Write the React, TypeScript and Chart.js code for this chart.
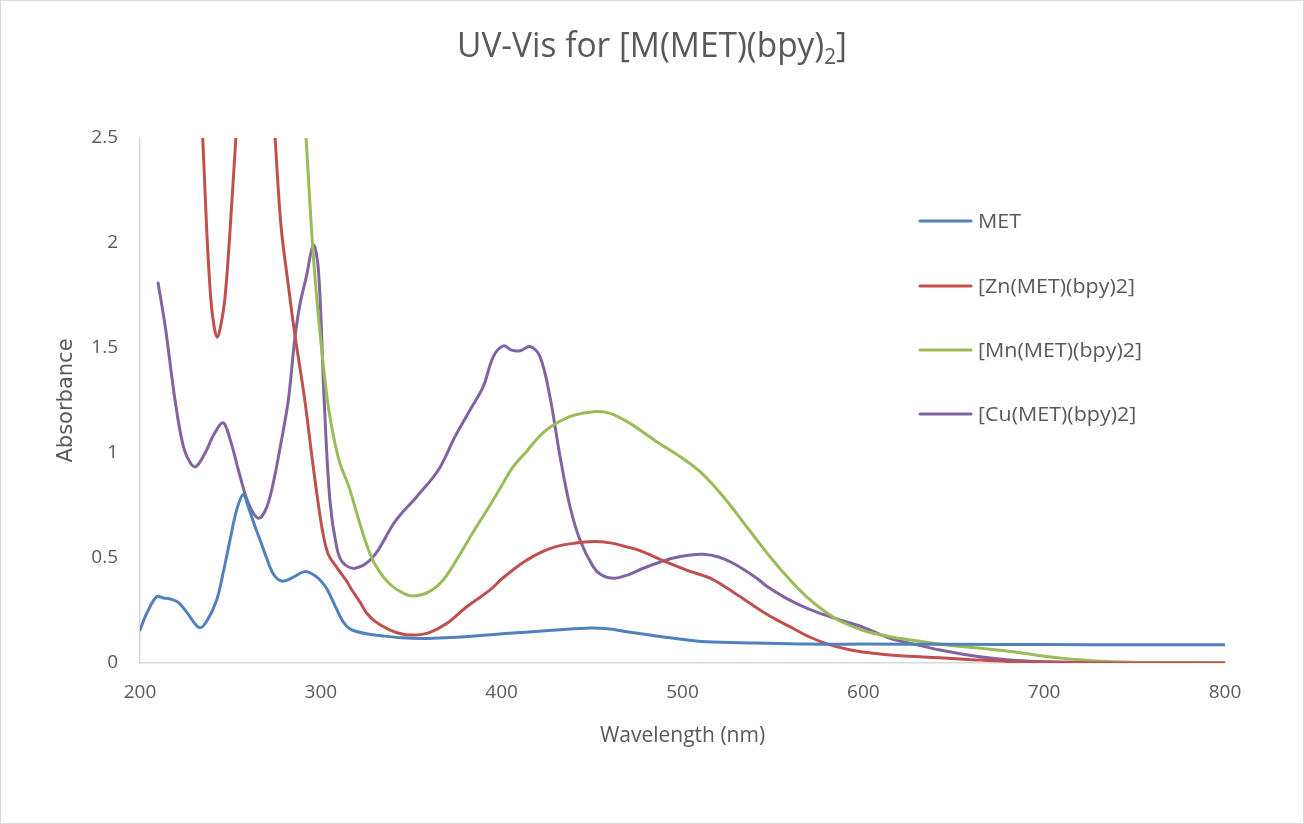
import React, { useEffect, useRef } from 'react';
import { Chart, registerables } from 'chart.js';

Chart.register(...registerables);

const titleMain = 'UV-Vis for [M(MET)(bpy)';
const titleSub = '2';
const titleEnd = ']';
const xTitle = 'Wavelength (nm)';
const yTitle = 'Absorbance';
const seriesNames = ['MET', '[Zn(MET)(bpy)2]', '[Mn(MET)(bpy)2]', '[Cu(MET)(bpy)2]'];
const seriesColors = ['#4F81BD', '#C0504D', '#9BBB59', '#8064A2'];

const metWl = [200, 203.7, 209.2, 213, 216.6, 221, 226, 232.8, 237, 242.4, 246, 249.8, 253.5, 257.1, 260, 263.6, 266.4, 270, 274, 278.4, 284, 290.9, 295, 299, 303.2, 308, 312.4, 316, 319.8, 326, 335, 345, 355, 362, 375, 390, 402, 415, 430, 449, 460, 470, 482, 495, 513.4, 540, 568.7, 600, 650, 700, 750, 800];
const metAbs = [0.157, 0.236, 0.316, 0.31, 0.305, 0.29, 0.24, 0.168, 0.2, 0.3, 0.43, 0.586, 0.73, 0.803, 0.74, 0.65, 0.586, 0.5, 0.42, 0.39, 0.405, 0.435, 0.425, 0.4, 0.355, 0.27, 0.195, 0.163, 0.15, 0.138, 0.128, 0.12, 0.117, 0.118, 0.123, 0.132, 0.14, 0.148, 0.157, 0.167, 0.162, 0.148, 0.133, 0.118, 0.101, 0.095, 0.09, 0.09, 0.089, 0.088, 0.087, 0.087];

const znWl = [233, 234.7, 236.9, 239.1, 241, 242.7, 244.5, 247, 249.8, 253, 256, 263, 269, 272, 274.7, 278, 282, 285.7, 291, 295.8, 300.5, 304, 308.8, 314.3, 317, 321.7, 325.3, 330, 336.4, 343, 351, 360, 370, 380.7, 393.6, 400, 408, 414, 420, 430, 440, 450.7, 460, 467.3, 476.5, 491.2, 503, 515, 525, 537.3, 549, 559.4, 570, 581.6, 593, 605.5, 620, 642.4, 660, 683, 700, 720, 750, 800];
const znAbs = [2.75, 2.5, 2.06, 1.74, 1.6, 1.551, 1.6, 1.74, 2.06, 2.5, 2.9, 3.3, 3.2, 2.85, 2.5, 2.08, 1.8, 1.56, 1.26, 0.935, 0.65, 0.52, 0.455, 0.39, 0.35, 0.29, 0.238, 0.198, 0.165, 0.142, 0.133, 0.145, 0.19, 0.268, 0.348, 0.4, 0.455, 0.49, 0.52, 0.554, 0.57, 0.578, 0.572, 0.557, 0.535, 0.48, 0.44, 0.405, 0.355, 0.284, 0.22, 0.173, 0.125, 0.086, 0.062, 0.046, 0.034, 0.025, 0.016, 0.006, 0.003, 0.001, 0, 0];

const mnWl = [287, 291.8, 295.5, 299, 303.5, 307, 310.6, 315.5, 321.7, 327.2, 332, 338.3, 345, 351, 360, 367.6, 375, 384, 392, 399, 406, 414, 421, 428.6, 440, 451, 460, 471, 485.7, 498.6, 509.7, 522.6, 535.5, 548.4, 559.5, 568.7, 578, 587.1, 600, 614.8, 630, 646, 665, 682.8, 696, 710.5, 725, 738, 760, 800];
const mnAbs = [3.1, 2.5, 1.98, 1.62, 1.26, 1.08, 0.95, 0.84, 0.66, 0.52, 0.44, 0.375, 0.335, 0.319, 0.34, 0.395, 0.49, 0.62, 0.73, 0.83, 0.93, 1.01, 1.08, 1.133, 1.18, 1.197, 1.189, 1.141, 1.054, 0.983, 0.911, 0.792, 0.649, 0.506, 0.395, 0.315, 0.25, 0.2, 0.155, 0.125, 0.105, 0.086, 0.07, 0.054, 0.037, 0.022, 0.012, 0.006, 0.002, 0];

const cuWl = [210, 214, 219.4, 224, 228, 231, 236, 241, 246, 250, 255, 260, 265.4, 270, 274, 278, 282, 285.7, 288.5, 292, 295.9, 298.7, 301.8, 305, 308.8, 312, 318.9, 329, 341, 353, 365, 374.2, 382.5, 389.8, 395.4, 401, 405.5, 410.2, 415.7, 421.2, 426.7, 432.3, 437.8, 443.3, 450.6, 455, 461.7, 470, 478, 485.7, 495, 503, 511.5, 520, 528, 540.9, 546.6, 556, 564.9, 575, 587.1, 600, 614.8, 628, 642.4, 664.5, 685, 701.4, 730, 800];
const cuAbs = [1.81, 1.6, 1.25, 1.03, 0.95, 0.935, 1.0, 1.09, 1.144, 1.06, 0.9, 0.76, 0.689, 0.74, 0.87, 1.05, 1.25, 1.55, 1.71, 1.84, 1.99, 1.87, 1.26, 0.776, 0.55, 0.48, 0.451, 0.506, 0.673, 0.792, 0.919, 1.078, 1.205, 1.316, 1.459, 1.51, 1.49, 1.487, 1.507, 1.459, 1.268, 0.982, 0.744, 0.586, 0.459, 0.42, 0.403, 0.42, 0.45, 0.475, 0.5, 0.513, 0.518, 0.505, 0.475, 0.405, 0.365, 0.315, 0.276, 0.24, 0.205, 0.17, 0.117, 0.09, 0.062, 0.03, 0.012, 0.006, 0.002, 0];

const xMin = 200;
const xMax = 800;
const xStep = 100;
const yMin = 0;
const yMax = 2.5;
const yStep = 0.5;

const seriesWl = [metWl, znWl, mnWl, cuWl];
const seriesAbs = [metAbs, znAbs, mnAbs, cuAbs];

const TEXT = '#595959';
const BODY_FONT = '"Open Sans", "Noto Sans", sans-serif';

const decorPlugin = {
  id: 'decor',
  beforeDraw(chart: any) {
    const ctx = chart.ctx;
    ctx.save();
    ctx.fillStyle = '#ffffff';
    ctx.fillRect(0, 0, chart.width, chart.height);
    ctx.strokeStyle = '#d9d9d9';
    ctx.lineWidth = 1;
    ctx.strokeRect(0.5, 0.5, chart.width - 1, chart.height - 1);
    ctx.restore();
  },
  afterDraw(chart: any) {
    const ctx = chart.ctx;
    ctx.save();
    ctx.fillStyle = TEXT;
    ctx.textBaseline = 'alphabetic';
    ctx.textAlign = 'left';
    const bigFont = `34px ${BODY_FONT}`;
    const subFont = `21px ${BODY_FONT}`;
    ctx.font = bigFont;
    const w1 = ctx.measureText(titleMain).width;
    const w3 = ctx.measureText(titleEnd).width;
    ctx.font = subFont;
    const w2 = ctx.measureText(titleSub).width;
    const total = w1 + w2 + w3;
    const targetW = 390;
    const sx = targetW / total;
    ctx.translate(652 - targetW / 2, 57);
    ctx.scale(sx, 1);
    ctx.font = bigFont;
    ctx.fillText(titleMain, 0, 0);
    ctx.font = subFont;
    ctx.fillText(titleSub, w1, 7);
    ctx.font = bigFont;
    ctx.fillText(titleEnd, w1 + w2, 0);
    ctx.restore();

    ctx.save();
    const legFont = `20px ${BODY_FONT}`;
    ctx.font = legFont;
    const refW = ctx.measureText(seriesNames[1]).width;
    const lsx = 157 / refW;
    const ys = [221, 286, 350, 414];
    chart.data.datasets.forEach((ds: any, i: number) => {
      const y = ys[i];
      ctx.strokeStyle = ds.borderColor;
      ctx.lineWidth = 3;
      ctx.lineCap = 'round';
      ctx.beginPath();
      ctx.moveTo(920, y);
      ctx.lineTo(971, y);
      ctx.stroke();
      ctx.save();
      ctx.translate(978, y + 7);
      ctx.scale(lsx, 1);
      ctx.fillStyle = TEXT;
      ctx.font = legFont;
      ctx.textBaseline = 'alphabetic';
      ctx.fillText(ds.label, 0, 0);
      ctx.restore();
    });
    ctx.restore();
  },
};

export default function App() {
  const ref = useRef<HTMLCanvasElement | null>(null);
  useEffect(() => {
    if (!ref.current) return;
    const datasets = seriesNames.map((name, i) => ({
      label: name,
      data: seriesWl[i].map((x, j) => ({ x, y: seriesAbs[i][j] })),
      borderColor: seriesColors[i],
      backgroundColor: seriesColors[i],
      borderWidth: 3,
      pointRadius: 0,
      pointHoverRadius: 0,
      fill: false,
      tension: 0.35,
      capBezierPoints: false,
      borderCapStyle: 'round' as const,
      borderJoinStyle: 'round' as const,
    }));
    const chart = new Chart(ref.current, {
      type: 'line',
      data: { datasets },
      options: {
        animation: false,
        responsive: false,
        devicePixelRatio: 1,
        layout: { padding: { left: 50, right: 79, top: 138, bottom: 71 } },
        plugins: {
          legend: { display: false },
          title: { display: false },
          tooltip: { enabled: false },
        },
        scales: {
          x: {
            type: 'linear',
            min: xMin,
            max: xMax,
            ticks: {
              stepSize: xStep,
              color: TEXT,
              font: { family: BODY_FONT, size: 19 },
              padding: 18,
            },
            grid: { display: false, drawTicks: false },
            border: { display: true, color: '#d9d9d9', width: 1.5 },
            title: {
              display: true,
              text: xTitle,
              color: TEXT,
              font: { family: BODY_FONT, size: 21 },
              padding: { top: 4, bottom: 4 },
            },
            afterFit(scale: any) {
              scale.height = 90;
            },
          },
          y: {
            type: 'linear',
            min: yMin,
            max: yMax,
            ticks: {
              stepSize: yStep,
              color: TEXT,
              font: { family: BODY_FONT, size: 19 },
              padding: 22,
              callback: (v: any) => String(Number(v)),
            },
            grid: { display: false, drawTicks: false },
            border: { display: true, color: '#d9d9d9', width: 1.5 },
            title: {
              display: true,
              text: yTitle,
              color: TEXT,
              font: { family: '"DejaVu Sans", sans-serif', size: 21 },
              padding: { top: 4, bottom: 4 },
            },
            afterFit(scale: any) {
              scale.width = 90;
            },
          },
        },
      },
      plugins: [decorPlugin],
    });
    return () => chart.destroy();
  }, []);
  return (
    <div style={{ position: 'absolute', left: 0, top: 0, width: 1304, height: 824 }}>
      <canvas ref={ref} width={1304} height={824} style={{ display: 'block' }} />
    </div>
  );
}
